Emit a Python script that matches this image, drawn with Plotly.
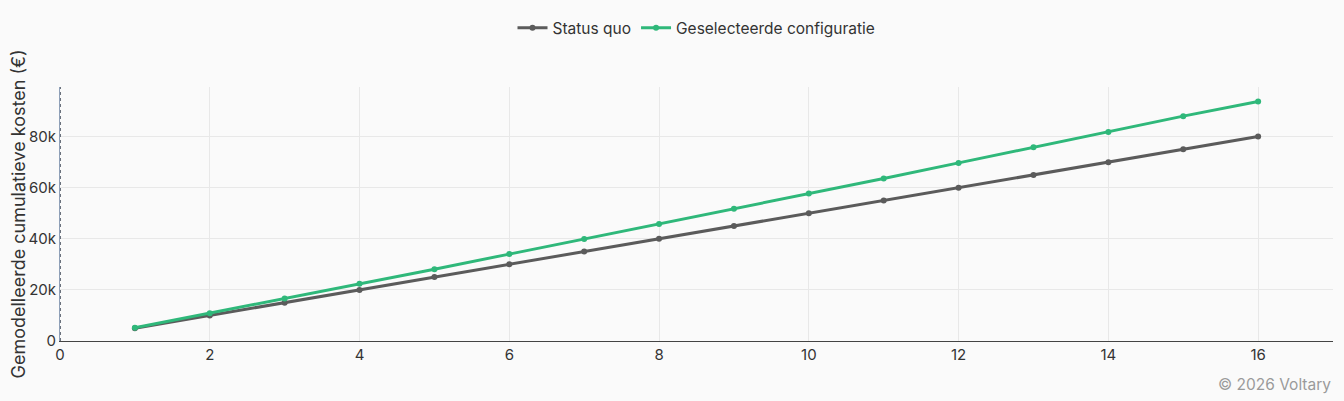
import plotly.graph_objects as go

# Years since start and modelled cumulative costs (EUR)
years = list(range(1, 17))
status_quo = [5000, 10000, 15000, 20000, 25000, 30000, 35000, 40000,
              45000, 50000, 55000, 60000, 65000, 70000, 75000, 80000]
geselecteerd = [5200, 10900, 16600, 22400, 28100, 34000, 39900, 45800,
                51800, 57700, 63600, 69700, 75800, 81800, 88000, 93700]

series_names = ["Status quo", "Geselecteerde configuratie"]
y_tickvals = [0, 20000, 40000, 60000, 80000]
y_ticktext = ["0", "20k", "40k", "60k", "80k"]

fig = go.Figure()
fig.add_trace(go.Scatter(
    x=years, y=status_quo, name=series_names[0], mode="lines+markers",
    line=dict(color="#5b5b5b", width=3), marker=dict(size=6, color="#5b5b5b"),
))
fig.add_trace(go.Scatter(
    x=years, y=geselecteerd, name=series_names[1], mode="lines+markers",
    line=dict(color="#2fb87a", width=3), marker=dict(size=6, color="#2fb87a"),
))

# dotted vertical axis line like the original
fig.add_shape(type="line", xref="x", yref="paper", x0=0, x1=0, y0=0, y1=1,
              line=dict(color="#3d4654", width=1.5, dash="dot"))

fig.add_annotation(
    text="© 2026 Voltary", xref="paper", yref="paper", x=1, y=-0.17,
    xanchor="right", yanchor="middle", showarrow=False,
    font=dict(size=15.5, color="#9a9a9a"),
)

# page has an 8px body margin, so the figure is slightly smaller
fig.update_layout(
    width=1336, height=393,
    paper_bgcolor="#fafafa", plot_bgcolor="#fafafa",
    font=dict(family="Inter, Roboto, sans-serif", size=15, color="#333"),
    margin=dict(l=52, r=11, t=79, b=60, autoexpand=False),
    showlegend=True,
    legend=dict(orientation="h", x=0.5, xanchor="center", y=1.232, yanchor="middle",
                font=dict(size=15.5, color="#333"), bgcolor="rgba(0,0,0,0)"),
    xaxis=dict(range=[0, 17], dtick=2, tick0=0, showgrid=True, gridcolor="#e8e8e8",
               zeroline=False, showline=True, linecolor="#444", linewidth=1,
               ticks="", tickfont=dict(size=15, color="#333")),
    yaxis=dict(range=[0, 99400], tickvals=y_tickvals, ticktext=y_ticktext,
               showgrid=True, gridcolor="#e8e8e8", zeroline=False,
               showline=True, linecolor="#8fa0b8", linewidth=1, ticks="",
               title=dict(text="Gemodelleerde cumulatieve kosten (€)",
                          font=dict(size=18, color="#333"), standoff=0),
               tickfont=dict(size=15, color="#333")),
)

fig.write_html("out.html", post_script="document.body.style.backgroundColor='#fafafa';")
